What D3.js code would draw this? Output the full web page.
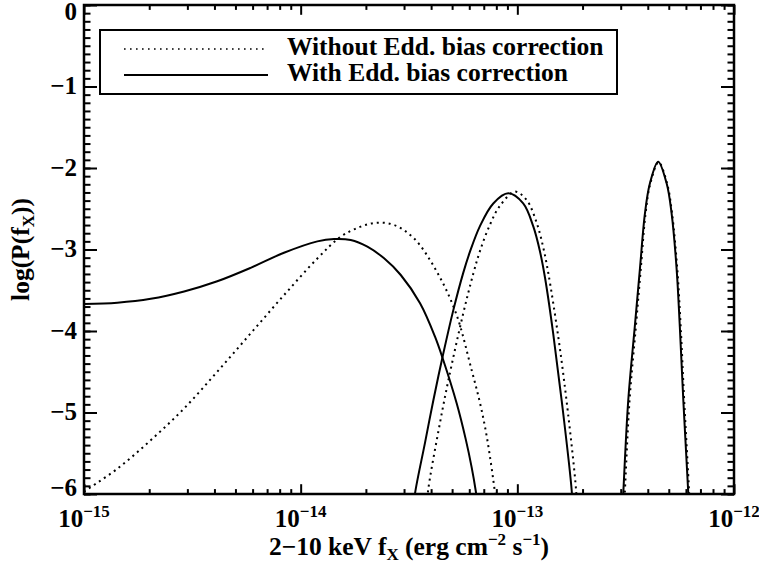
<!DOCTYPE html>
<html>
<head>
<meta charset="utf-8">
<script src="https://cdn.jsdelivr.net/npm/d3@7"></script>
<style>
  body { margin: 0; background: #fff; }
  svg text { font-family: "Liberation Serif", "Times New Roman", serif; font-weight: bold; fill: #000; }
</style>
</head>
<body>
<svg id="chart" width="759" height="564"></svg>
<script>
// values: [log10 fX, log10 P(fX)]
var withBroad = [[-15.0,-3.669],[-14.846,-3.653],[-14.692,-3.605],[-14.538,-3.515],[-14.385,-3.39],
  [-14.231,-3.225],[-14.077,-3.04],[-13.923,-2.9],[-13.846,-2.871],[-13.769,-2.883],[-13.692,-2.965],
  [-13.615,-3.108],[-13.538,-3.313],[-13.449,-3.66],[-13.38,-4.07],[-13.342,-4.356],[-13.28,-4.887],
  [-13.238,-5.33],[-13.211,-5.67],[-13.192,-5.96],[-13.18,-6.2]];
var withMid = [[-13.48,-6.2],[-13.472,-5.99],[-13.426,-5.37],[-13.388,-4.855],[-13.342,-4.28],[-13.296,-3.75],
  [-13.25,-3.29],[-13.219,-3.03],[-13.172,-2.71],[-13.111,-2.435],[-13.042,-2.311],[-12.973,-2.435],
  [-12.926,-2.72],[-12.895,-3.03],[-12.872,-3.35],[-12.835,-4.02],[-12.795,-4.86],[-12.749,-5.96],[-12.745,-6.2]];
var withHigh = [[-12.515,-6.2],[-12.511,-5.99],[-12.488,-4.847],[-12.458,-3.95],[-12.434,-3.231],[-12.411,-2.556],
  [-12.388,-2.188],[-12.35,-1.922],[-12.311,-2.188],[-12.288,-2.556],[-12.265,-3.231],[-12.25,-3.95],
  [-12.234,-4.847],[-12.211,-5.99],[-12.208,-6.2]];

var withoutBroad = [[-15.0,-5.97],[-14.846,-5.69],[-14.692,-5.34],[-14.538,-4.95],[-14.385,-4.5],
  [-14.231,-4.03],[-14.077,-3.56],[-13.923,-3.11],[-13.815,-2.843],[-13.723,-2.72],[-13.646,-2.671],
  [-13.569,-2.699],[-13.477,-2.863],[-13.372,-3.27],[-13.283,-3.783],[-13.211,-4.479],[-13.172,-4.887],
  [-13.141,-5.297],[-13.103,-5.99],[-13.095,-6.2]];
var withoutMid = [[-13.42,-6.2],[-13.411,-5.94],[-13.357,-5.127],[-13.319,-4.614],[-13.252,-3.81],[-13.203,-3.294],
  [-13.172,-3.015],[-13.126,-2.693],[-13.08,-2.463],[-13.011,-2.29],[-12.957,-2.393],[-12.911,-2.67],
  [-12.88,-2.98],[-12.857,-3.29],[-12.812,-4.055],[-12.772,-4.875],[-12.729,-5.95],[-12.725,-6.2]];
var withoutHigh = [[-12.508,-6.2],[-12.504,-5.99],[-12.482,-4.847],[-12.453,-3.95],[-12.43,-3.231],[-12.408,-2.556],
  [-12.386,-2.188],[-12.348,-1.93],[-12.309,-2.188],[-12.286,-2.556],[-12.262,-3.231],[-12.246,-3.95],
  [-12.23,-4.847],[-12.207,-5.99],[-12.204,-6.2]];

var xTickExps = [-15, -14, -13, -12];
var yTicks = [0, -1, -2, -3, -4, -5, -6];
var legendLabels = ["Without Edd. bias correction", "With Edd. bias correction"];

var drawChart = function () {
  var svg = d3.select("#chart");
  var pLeft = 84, pRight = 734, pTop = 5, pBottom = 494;

  var x = d3.scaleLog().domain([1e-15, 1e-12]).range([pLeft, pRight]);
  var y = d3.scaleLinear().domain([-6, 0]).range([pBottom, pTop]);

  var majorX = xTickExps.map(function (e) { return Math.pow(10, e); });
  var minorX = [];
  xTickExps.slice(0, -1).forEach(function (e) {
    for (var m = 2; m <= 9; m++) minorX.push(m * Math.pow(10, e));
  });
  var minorY = d3.range(-60, 1).map(function (d) { return d / 10; });

  function ticks(axis, vals, size, tr) {
    var g = svg.append("g").attr("transform", tr)
      .call(axis.tickValues(vals).tickSize(-size).tickSizeOuter(0).tickFormat(""));
    g.select(".domain").remove();
    g.selectAll("line").attr("stroke", "#000").attr("stroke-width", 2);
  }
  ticks(d3.axisBottom(x), majorX, 9.8, "translate(0," + pBottom + ")");
  ticks(d3.axisBottom(x), minorX, 4.9, "translate(0," + pBottom + ")");
  ticks(d3.axisTop(x), majorX, 9.8, "translate(0," + pTop + ")");
  ticks(d3.axisTop(x), minorX, 4.9, "translate(0," + pTop + ")");
  ticks(d3.axisLeft(y), yTicks, 13, "translate(" + pLeft + ",0)");
  ticks(d3.axisLeft(y), minorY, 6.5, "translate(" + pLeft + ",0)");
  ticks(d3.axisRight(y), yTicks, 13, "translate(" + pRight + ",0)");
  ticks(d3.axisRight(y), minorY, 6.5, "translate(" + pRight + ",0)");

  // curves, clipped to the plot box
  svg.append("clipPath").attr("id", "plotclip").append("rect")
    .attr("x", pLeft).attr("y", pTop).attr("width", pRight - pLeft).attr("height", pBottom - pTop);

  var line = d3.line()
    .x(function (d) { return x(Math.pow(10, d[0])); })
    .y(function (d) { return y(d[1]); })
    .curve(d3.curveCatmullRom.alpha(0.5));

  var curves = svg.append("g").attr("clip-path", "url(#plotclip)");
  [withoutBroad, withoutMid, withoutHigh].forEach(function (c) {
    curves.append("path").attr("d", line(c)).attr("fill", "none").attr("stroke", "#000")
      .attr("stroke-width", 2).attr("stroke-dasharray", "2,4");
  });
  [withBroad, withMid, withHigh].forEach(function (c) {
    curves.append("path").attr("d", line(c)).attr("fill", "none").attr("stroke", "#000")
      .attr("stroke-width", 2);
  });

  // frame
  svg.append("rect").attr("x", pLeft).attr("y", pTop).attr("width", pRight - pLeft).attr("height", pBottom - pTop)
    .attr("fill", "none").attr("stroke", "#000").attr("stroke-width", 2.5);

  // tick labels
  xTickExps.forEach(function (e) {
    var t = svg.append("text").attr("x", x(Math.pow(10, e))).attr("y", 527)
      .attr("text-anchor", "middle").style("font-size", "25px");
    t.append("tspan").text("10");
    t.append("tspan").attr("dy", -10).style("font-size", "17px").text("\u2212" + Math.abs(e));
  });
  yTicks.forEach(function (v) {
    var off = v === 0 ? 15 : (v === -6 ? 2 : 7.5);
    svg.append("text").attr("x", 77).attr("y", y(v) + off).attr("text-anchor", "end")
      .style("font-size", "25px").text(v === 0 ? "0" : "\u2212" + Math.abs(v));
  });

  // axis titles
  var xt = svg.append("text").attr("x", (pLeft + pRight) / 2).attr("y", 555)
    .attr("text-anchor", "middle").style("font-size", "25.5px");
  xt.append("tspan").text("2\u221210 keV f");
  xt.append("tspan").attr("dy", 5).style("font-size", "17px").text("X");
  xt.append("tspan").attr("dy", -5).text(" (erg cm");
  xt.append("tspan").attr("dy", -10).style("font-size", "17px").text("\u22122");
  xt.append("tspan").attr("dy", 10).text(" s");
  xt.append("tspan").attr("dy", -10).style("font-size", "17px").text("\u22121");
  xt.append("tspan").attr("dy", 10).text(")");

  var yt = svg.append("text").attr("transform", "translate(29," + (pTop + pBottom) / 2 + ") rotate(-90)")
    .attr("text-anchor", "middle").style("font-size", "25.5px");
  yt.append("tspan").text("log(P(f");
  yt.append("tspan").attr("dy", 5).style("font-size", "17px").text("X");
  yt.append("tspan").attr("dy", -5).text("))");

  // legend
  var lg = svg.append("g");
  lg.append("rect").attr("x", 100).attr("y", 30).attr("width", 517).attr("height", 64)
    .attr("fill", "#fff").attr("stroke", "#000").attr("stroke-width", 2);
  legendLabels.forEach(function (lab, i) {
    var ly = 49 + i * 26;
    lg.append("line").attr("x1", 124).attr("x2", 268).attr("y1", ly).attr("y2", ly)
      .attr("stroke", "#000").attr("stroke-width", i === 0 ? 1.6 : 2)
      .attr("stroke-dasharray", i === 0 ? "1.6,4.4" : null);
    lg.append("text").attr("x", 287).attr("y", ly + 6).style("font-size", "25.5px").text(lab);
  });
};

drawChart();
</script>
</body>
</html>
